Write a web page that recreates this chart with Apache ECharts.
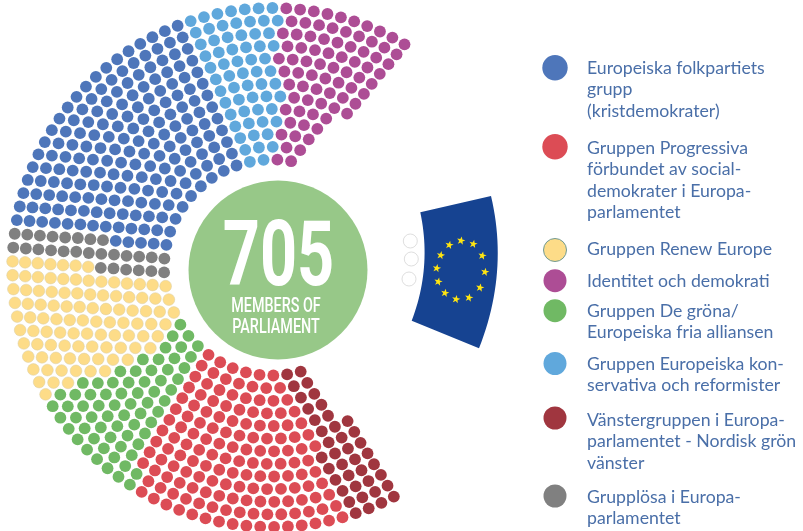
<!DOCTYPE html>
<html>
<head>
<meta charset="utf-8">
<title>705 members of parliament</title>
<script src="https://cdn.jsdelivr.net/npm/echarts@6/dist/echarts.min.js"></script>
<style>
	html, body { margin: 0; padding: 0; background: #fff; }
	#chartBox { width: 803px; height: 531px; }
</style>
</head>
<body>
<div id="chartBox"></div>
<script>
// hemicycle rows, outer row first
var rowSeats = [79, 75, 71, 67, 63, 59, 55, 51, 45, 41, 37, 33, 29];
var rowRadius = [259.5, 246.9, 234.3, 221.6, 209, 196.4, 183.8, 171.2, 158.5, 145.9, 133.3, 120.7, 108];
var rowTopAngle = [59.3, 59.7, 60.2, 60.9, 61.5, 62.1, 63, 64, 70, 71.9, 74, 76.5, 79.8];
var rowBottomAngle = [62, 62.1, 62.3, 62.6, 62.8, 63.2, 63.4, 63.8, 69.3, 70.2, 71.5, 73, 74.6];

// seats of each group in each row, same row order
var leftSeats = [4, 4, 4, 4, 4, 4, 3, 3, 2, 2, 2, 2, 2];
var sdSeats = [16, 15, 15, 14, 13, 12, 12, 11, 10, 9, 8, 7, 6];
var greenSeats = [9, 9, 7, 7, 6, 5, 5, 4, 4, 3, 3, 3, 3];
var renewSeats = [11, 10, 10, 9, 9, 9, 8, 7, 6, 6, 5, 4, 3];
var niSeats = [2, 2, 2, 2, 2, 2, 2, 3, 2, 2, 2, 2, 2];
var eppSeats = [20, 19, 18, 17, 16, 15, 14, 13, 13, 12, 11, 10, 9];
var ecrSeats = [7, 7, 6, 6, 5, 5, 5, 5, 4, 4, 3, 3, 2];
var idSeats = [10, 9, 9, 8, 8, 7, 6, 5, 4, 3, 3, 2, 2];

var eppText = 'Europeiska folkpartiets\ngrupp\n(kristdemokrater)';
var sdText = 'Gruppen Progressiva\nförbundet av social-\ndemokrater i Europa-\nparlamentet';
var renewText = 'Gruppen Renew Europe';
var idText = 'Identitet och demokrati';
var greenText = 'Gruppen De gröna/\nEuropeiska fria alliansen';
var ecrText = 'Gruppen Europeiska kon-\nservativa och reformister';
var leftText = 'Vänstergruppen i Europa-\nparlamentet - Nordisk grön\nvänster';
var niText = 'Grupplösa i Europa-\nparlamentet';

window.addEventListener('load', function() {
	var myChart = echarts.init(document.getElementById('chartBox'), null, { renderer: 'canvas' });

	var blue = '#4e76ba', red = '#dc4c55', yellow = '#fddc88', purple = '#ad4d95';
	var green = '#70b964', sky = '#60a8dc', darkRed = '#a0363f', grey = '#808080';
	var textColor = '#4a6fa8';

	// groups in seat order, starting from the lower right end of each row
	var groups = [
		{ name: 'Vänster', rows: leftSeats, color: darkRed },
		{ name: 'S&D', rows: sdSeats, color: red },
		{ name: 'Gröna', rows: greenSeats, color: green },
		{ name: 'Renew', rows: renewSeats, color: yellow },
		{ name: 'Grupplösa', rows: niSeats, color: grey },
		{ name: 'EPP', rows: eppSeats, color: blue },
		{ name: 'ECR', rows: ecrSeats, color: sky },
		{ name: 'ID', rows: idSeats, color: purple }
	];

	var used = rowSeats.map(function() { return 0; });
	var series = groups.map(function(g) {
		var data = [];
		g.rows.forEach(function(count, r) {
			var from = 360 - rowBottomAngle[r];
			var step = (from - rowTopAngle[r]) / (rowSeats[r] - 1);
			for (var i = 0; i < count; i++) {
				data.push([rowRadius[r], from - step * used[r]]);
				used[r]++;
			}
		});
		return {
			name: g.name,
			type: 'scatter',
			coordinateSystem: 'polar',
			symbolSize: 11.8,
			silent: true,
			itemStyle: {
				color: g.color,
				borderColor: '#d8cda4',
				borderWidth: g.color === yellow ? 0.5 : 0,
				opacity: 1
			},
			data: data
		};
	});

	var graphics = [];

	// centre badge
	graphics.push({ type: 'circle', shape: { cx: 278, cy: 270, r: 89.5 }, style: { fill: '#97c888' } });
	graphics.push({
		type: 'text', x: 278.5, y: 262.5, scaleX: 0.72,
		style: {
			text: '705', fill: '#fff', align: 'center', verticalAlign: 'middle',
			font: 'bold 90px Roboto'
		}
	});
	graphics.push({
		type: 'text', x: 276, y: 306.5, scaleX: 0.7,
		style: {
			text: 'MEMBERS OF', fill: '#fff', align: 'center', verticalAlign: 'middle',
			font: '500 20.5px Roboto'
		}
	});
	graphics.push({
		type: 'text', x: 276, y: 328, scaleX: 0.7,
		style: {
			text: 'PARLIAMENT', fill: '#fff', align: 'center', verticalAlign: 'middle',
			font: '500 20.5px Roboto'
		}
	});

	// flag and the three empty seats beside it
	[[410.3, 241], [411.3, 259], [409, 279]].forEach(function(p) {
		graphics.push({
			type: 'circle', shape: { cx: p[0], cy: p[1], r: 7 },
			style: { fill: '#fff', stroke: '#d0d0d0', lineWidth: 0.7 }
		});
	});
	function curve(a, c, b) {
		var pts = [];
		for (var i = 0; i <= 24; i++) {
			var t = i / 24, u = 1 - t;
			pts.push([u * u * a[0] + 2 * u * t * c[0] + t * t * b[0], u * u * a[1] + 2 * u * t * c[1] + t * t * b[1]]);
		}
		return pts;
	}
	graphics.push({
		type: 'polygon',
		shape: { points: curve([491, 196], [509, 272], [479, 348.3]).concat(curve([411.7, 320.7], [432, 267.5], [420.3, 212.3])) },
		style: { fill: '#164391' }
	});
	function starPoints(cx, cy, r) {
		var pts = [];
		for (var i = 0; i < 10; i++) {
			var a = -Math.PI / 2 + i * Math.PI / 5 + 0.2;
			var rr = i % 2 ? r * 0.4 : r;
			pts.push([cx + rr * Math.cos(a), cy + rr * Math.sin(a)]);
		}
		return pts;
	}
	[[461, 240.7], [473.3, 244], [482.3, 255.7], [485, 272], [480, 287.7], [469, 297.7],
		[456, 299.3], [445, 293], [438.3, 281.7], [436.7, 268.3], [440.7, 255.3], [449.3, 245]].forEach(function(p) {
		graphics.push({
			type: 'polygon',
			shape: { points: starPoints(p[0], p[1], 4.4) },
			style: { fill: '#ffe511' }
		});
	});

	// legend, drawn by hand because the row spacing is irregular
	var legendItems = [
		{ text: eppText, color: blue, y: 67.7, r: 12.7, top: 68 },
		{ text: sdText, color: red, y: 146.7, r: 12.7, top: 148 },
		{ text: renewText, color: yellow, y: 250, r: 11.5, top: 249, stroke: '#6f9a96' },
		{ text: idText, color: purple, y: 280.7, r: 11.5, top: 281 },
		{ text: greenText, color: green, y: 310.7, r: 11.5, top: 311 },
		{ text: ecrText, color: sky, y: 363.5, r: 11.5, top: 364 },
		{ text: leftText, color: darkRed, y: 418, r: 11.5, top: 420 },
		{ text: niText, color: grey, y: 496, r: 11.5, top: 497 }
	];
	legendItems.forEach(function(item) {
		graphics.push({
			type: 'circle', shape: { cx: 555, cy: item.y, r: item.r },
			style: { fill: item.color, stroke: item.stroke || item.color, lineWidth: item.stroke ? 1 : 0 }
		});
		item.text.split('\n').forEach(function(line, i) {
			graphics.push({
				type: 'text', x: 587, y: item.top + i * 21.5,
				style: {
					text: line, fill: textColor, align: 'left', verticalAlign: 'middle',
					font: '17.7px Lato, "Noto Sans"'
				}
			});
		});
	});

	var option = {
		animation: false,
		backgroundColor: '#fff',
		polar: { center: [272, 267.5], radius: 300 },
		angleAxis: { type: 'value', min: 0, max: 360, startAngle: 0, clockwise: false, show: false },
		radiusAxis: { type: 'value', min: 0, max: 300, show: false },
		graphic: { elements: graphics },
		series: series
	};
	myChart.setOption(option);
});
</script>
</body>
</html>
